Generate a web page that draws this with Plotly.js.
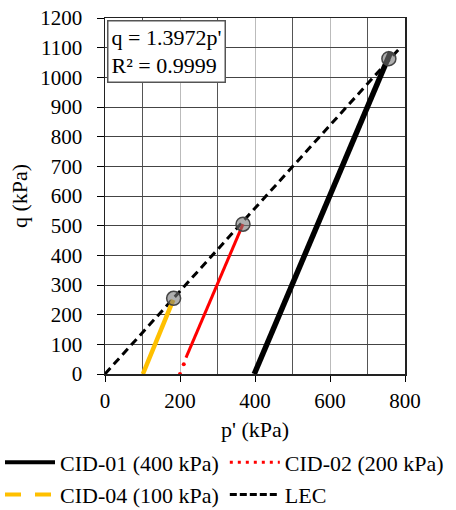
<!DOCTYPE html>
<html>
<head>
<meta charset="utf-8">
<script src="https://cdn.plot.ly/plotly-3.0.1.min.js"></script>
<style>html,body{margin:0;padding:0;background:#fff;}#chart{width:456px;height:510px;}</style>
</head>
<body>
<div id="chart"></div>
<script>
// Stress paths (p', q) in kPa
const cid01P = [398, 450, 500, 550, 600, 650, 700, 740, 762];
const cid01Q = [0, 155, 305, 455, 605, 755, 905, 1025, 1086];
const cid02SparseP = [200, 210];
const cid02SparseQ = [0, 33];
const cid02P = [216, 250, 290, 330, 368];
const cid02Q = [55, 155, 275, 395, 505];
const cid04P = [101, 120, 140, 160, 182];
const cid04Q = [0, 57, 118, 178, 250];
const lecP = [0, 785];
const lecQ = [0, 1097];
// Failure points
const failP = [757, 368, 183];
const failQ = [1063, 505, 255];

const seriesNames = ['CID-01 (400 kPa)', 'CID-02 (200 kPa)', 'CID-04 (100 kPa)', 'LEC'];
const xTicks = [0, 200, 400, 600, 800];
const yTicks = [0, 100, 200, 300, 400, 500, 600, 700, 800, 900, 1000, 1100, 1200];

const FONT = 'Liberation Serif, Times New Roman, serif';
const FS = 21;   // tick labels
const FT = 22;   // titles, legend, annotation

const traces = [
  {x: lecP, y: lecQ, mode: 'lines', line: {color: '#000', width: 3, dash: '8px,5px'}, showlegend: false, hoverinfo: 'skip'},
  {x: cid04P, y: cid04Q, mode: 'lines', line: {color: '#FFC000', width: 4.5}, showlegend: false},
  {x: cid02SparseP, y: cid02SparseQ, mode: 'markers', marker: {color: '#FF0000', size: 4}, showlegend: false},
  {x: cid02P, y: cid02Q, mode: 'lines', line: {color: '#FF0000', width: 3}, showlegend: false},
  {x: cid01P, y: cid01Q, mode: 'lines', line: {color: '#000', width: 5.5}, showlegend: false},
  {x: failP, y: failQ, mode: 'markers', marker: {color: 'rgba(120,120,120,0.6)', size: 14, line: {color: '#444', width: 1.5}}, showlegend: false},
  // legend entries
  {x: [null], y: [null], mode: 'lines', name: seriesNames[0], line: {color: '#000', width: 4}, legend: 'legend'},
  {x: [null], y: [null], mode: 'lines', name: seriesNames[1], line: {color: '#FF0000', width: 3, dash: '3px,5px'}, legend: 'legend2'},
  {x: [null], y: [null], mode: 'lines', name: seriesNames[2], line: {color: '#FFC000', width: 4, dash: '16px,14px'}, legend: 'legend3'},
  {x: [null], y: [null], mode: 'lines', name: seriesNames[3], line: {color: '#000', width: 3, dash: '7px,3px'}, legend: 'legend4'}
];

const legendBase = {
  orientation: 'h', xref: 'container', yref: 'container', xanchor: 'left', yanchor: 'middle',
  itemwidth: 50,
  font: {family: FONT, size: FT, color: '#000'}, bgcolor: 'rgba(0,0,0,0)', borderwidth: 0
};

const layout = {
  width: 456, height: 510,
  margin: {l: 105, r: 51, t: 18, b: 136, autoexpand: false},
  paper_bgcolor: '#fff', plot_bgcolor: '#fff',
  font: {family: FONT, size: FS, color: '#000'},
  xaxis: {
    range: [0, 800], tickvals: xTicks, ticktext: xTicks.map(String),
    ticks: 'outside', ticklen: 6, tickcolor: '#000', automargin: true, ticklabelstandoff: 1,
    showgrid: true, gridcolor: '#bbb', gridwidth: 1,
    minor: {dtick: 100, tick0: 0, showgrid: true, gridcolor: '#555', gridwidth: 1, ticks: ''},
    showline: true, linecolor: '#222', linewidth: 1.5, mirror: true, zeroline: false,
    tickfont: {family: FONT, size: FS},
    title: {text: "p' (kPa)", font: {family: FONT, size: FT}, standoff: 10}
  },
  yaxis: {
    range: [0, 1200], tickvals: yTicks, ticktext: yTicks.map(String),
    ticks: 'outside', ticklen: 7, tickcolor: '#000', automargin: true, ticklabelstandoff: 10,
    showgrid: true, gridcolor: '#444', gridwidth: 1,
    showline: true, linecolor: '#222', linewidth: 1.5, mirror: true, zeroline: false,
    tickfont: {family: FONT, size: FS},
    title: {text: 'q (kPa)', font: {family: FONT, size: FT}, standoff: 6}
  },
  legend: Object.assign({}, legendBase, {x: 0, y: 0.093}),
  legend2: Object.assign({}, legendBase, {x: 0.493, y: 0.093}),
  legend3: Object.assign({}, legendBase, {x: 0, y: 0.03}),
  legend4: Object.assign({}, legendBase, {x: 0.493, y: 0.03}),
  annotations: [{
    xref: 'paper', yref: 'paper', x: 0.007, y: 0.994, xanchor: 'left', yanchor: 'top',
    text: "q = 1.3972p'<br>R² = 0.9999", align: 'left', showarrow: false,
    font: {family: FONT, size: FT, color: '#000'},
    bgcolor: '#fff', bordercolor: '#555', borderwidth: 1.5, borderpad: 3
  }]
};

Plotly.newPlot('chart', traces, layout, {staticPlot: true, displayModeBar: false});
</script>
</body>
</html>
